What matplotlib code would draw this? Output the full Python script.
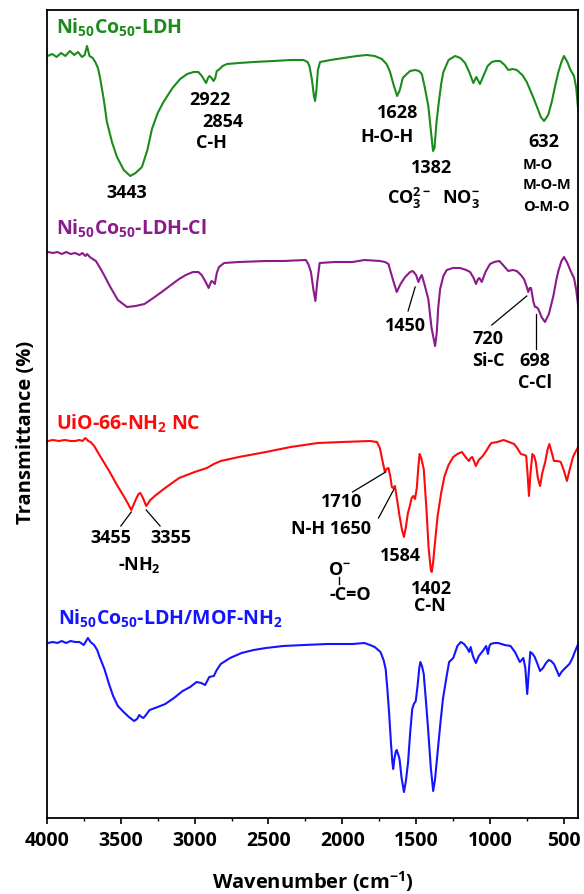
import matplotlib
matplotlib.use('Agg')
import matplotlib.pyplot as plt
from matplotlib.ticker import MultipleLocator

plt.rcParams['font.family'] = 'Open Sans'
plt.rcParams['font.weight'] = 'bold'
plt.rcParams['axes.labelweight'] = 'bold'
plt.rcParams['mathtext.fontset'] = 'custom'
plt.rcParams['mathtext.rm'] = 'Open Sans:bold'
plt.rcParams['mathtext.it'] = 'Open Sans:bold'
plt.rcParams['mathtext.bf'] = 'Open Sans:bold'

# FTIR spectra (wavenumber in cm-1, transmittance in a.u., already stacked)
wn_ldh = [3996, 3965, 3935, 3905, 3875, 3845, 3815, 3790, 3763, 3745, 3729, 3712, 3690, 3673, 3655,
          3639, 3615, 3594, 3560, 3526, 3480, 3436, 3400, 3357, 3320, 3289, 3250, 3211, 3150, 3098,
          3050, 3007, 2975, 2951, 2935, 2922, 2910, 2899, 2885, 2872, 2860, 2850, 2838, 2810, 2781,
          2700, 2600, 2466, 2350, 2263, 2235, 2222, 2205, 2192, 2184, 2175, 2165, 2150, 2080, 1992,
          1900, 1834, 1780, 1732, 1700, 1676, 1650, 1628, 1610, 1590, 1563, 1540, 1507, 1480, 1461,
          1440, 1417, 1400, 1385, 1375, 1362, 1349, 1330, 1315, 1280, 1236, 1200, 1168, 1140, 1112,
          1092, 1067, 1044, 1015, 987, 960, 931, 900, 875, 845, 818, 780, 750, 710, 683,
          655, 633, 605, 581, 555, 536, 515, 498, 475, 457, 430, 415, 401]
t_ldh = [762, 764, 761, 765, 762, 767, 763, 766, 761, 763, 772, 762, 760, 756, 750,
         739, 718, 696, 676, 661, 648, 642, 645, 651, 668, 689, 705, 716, 730, 739,
         744, 746, 746, 742, 738, 735, 740, 742, 740, 737, 740, 747, 748, 752, 754,
         755, 756, 757, 758, 758, 756, 752, 738, 722, 717, 728, 748, 756, 758, 760,
         762, 763, 762, 759, 754, 746, 732, 722, 728, 740, 744, 747, 748, 747, 744,
         730, 712, 688, 667, 670, 695, 712, 734, 746, 758, 762, 760, 755, 746, 735,
         741, 734, 742, 752, 756, 757, 757, 753, 748, 749, 748, 743, 736, 722, 712,
         701, 697, 703, 716, 734, 746, 756, 762, 756, 749, 742, 730, 707]

wn_cl = [3994, 3960, 3930, 3900, 3870, 3840, 3810, 3780, 3760, 3740, 3728, 3710, 3690, 3669, 3640,
         3610, 3575, 3520, 3458, 3400, 3340, 3280, 3223, 3160, 3105, 3060, 3011, 2975, 2952, 2925,
         2905, 2895, 2886, 2875, 2863, 2850, 2835, 2800, 2700, 2517, 2400, 2247, 2230, 2212, 2195,
         2182, 2170, 2153, 2050, 1930, 1850, 1744, 1710, 1687, 1660, 1631, 1605, 1574, 1540, 1522,
         1500, 1484, 1470, 1461, 1440, 1417, 1395, 1371, 1360, 1350, 1337, 1315, 1292, 1250, 1202,
         1160, 1134, 1110, 1094, 1080, 1071, 1055, 1030, 999, 970, 936, 905, 875, 845, 818,
         790, 769, 752, 740, 730, 721, 705, 694, 685, 672, 650, 627, 600, 570, 550,
         536, 515, 498, 475, 453, 430, 415, 401]
t_cl = [566, 565, 566, 564, 566, 564, 565, 563, 565, 562, 564, 561, 559, 557, 550,
        542, 532, 518, 511, 512, 514, 520, 526, 533, 539, 543, 546, 546, 543, 536,
        530, 534, 537, 536, 534, 545, 551, 555, 556, 557, 557, 558, 554, 546, 528,
        517, 535, 555, 556, 556, 558, 557, 556, 554, 540, 526, 534, 541, 546, 547,
        543, 536, 541, 543, 532, 519, 490, 472, 485, 510, 529, 542, 548, 550, 550,
        548, 546, 540, 534, 539, 540, 536, 546, 554, 556, 557, 552, 547, 548, 547,
        543, 539, 532, 526, 530, 530, 516, 511, 511, 509, 501, 496, 504, 522, 538,
        547, 557, 561, 555, 547, 540, 528, 511]

wn_uio = [3994, 3960, 3920, 3880, 3840, 3810, 3780, 3760, 3740, 3720, 3705, 3680, 3657, 3620, 3575,
          3530, 3481, 3450, 3429, 3400, 3380, 3368, 3350, 3328, 3300, 3270, 3200, 3105, 3000, 2917,
          2870, 2823, 2700, 2517, 2350, 2165, 2000, 1812, 1765, 1745, 1730, 1720, 1711, 1700, 1687,
          1675, 1664, 1655, 1643, 1625, 1612, 1595, 1582, 1570, 1555, 1542, 1530, 1518, 1507, 1495,
          1485, 1476, 1465, 1448, 1430, 1415, 1400, 1394, 1385, 1370, 1354, 1330, 1307, 1280, 1248,
          1220, 1189, 1165, 1142, 1130, 1119, 1105, 1095, 1075, 1048, 1025, 1000, 989, 950, 907,
          870, 836, 815, 790, 765, 754, 745, 735, 725, 712, 700, 689, 675, 660, 645,
          625, 610, 597, 580, 566, 540, 520, 500, 478, 460, 437, 420, 402]
t_uio = [377, 378, 377, 378, 377, 377, 378, 377, 380, 377, 376, 372, 366, 357, 346,
         334, 322, 314, 308, 318, 324, 325, 320, 312, 318, 322, 330, 340, 346, 350,
         354, 357, 361, 366, 371, 375, 376, 377, 376, 370, 359, 352, 346, 349, 350,
         342, 331, 330, 332, 315, 302, 288, 281, 290, 305, 312, 320, 322, 319, 330,
         350, 364, 360, 349, 310, 270, 248, 246, 255, 278, 302, 325, 342, 353, 361,
         364, 366, 361, 357, 360, 361, 356, 352, 358, 362, 367, 373, 375, 376, 378,
         376, 374, 370, 364, 363, 362, 345, 322, 345, 364, 362, 356, 340, 332, 345,
         356, 368, 374, 365, 357, 357, 356, 348, 337, 348, 361, 366, 371]

wn_mof = [3994, 3960, 3930, 3900, 3870, 3840, 3810, 3780, 3760, 3751, 3735, 3723, 3705, 3681, 3660,
          3646, 3611, 3580, 3552, 3520, 3481, 3445, 3410, 3390, 3375, 3360, 3347, 3330, 3305, 3250,
          3199, 3140, 3081, 3030, 2987, 2955, 2929, 2915, 2901, 2870, 2850, 2823, 2760, 2682, 2600,
          2517, 2400, 2259, 2100, 1930, 1850, 1812, 1780, 1741, 1720, 1706, 1695, 1683, 1670, 1660,
          1655, 1648, 1638, 1631, 1622, 1612, 1598, 1582, 1568, 1554, 1540, 1526, 1515, 1502, 1490,
          1478, 1471, 1460, 1448, 1432, 1417, 1400, 1384, 1372, 1354, 1335, 1318, 1295, 1276, 1248,
          1220, 1197, 1175, 1154, 1140, 1130, 1115, 1095, 1075, 1048, 1025, 1013, 1003, 994, 970,
          943, 900, 860, 830, 810, 797, 785, 773, 760, 747, 737, 726, 710, 696, 680,
          660, 640, 620, 601, 585, 566, 545, 531, 515, 496, 475, 461, 440, 425, 402]
t_mof = [175, 176, 175, 177, 175, 177, 176, 176, 174, 173, 177, 180, 176, 173, 168,
         162, 149, 134, 122, 112, 106, 101, 97, 99, 103, 101, 100, 103, 108, 111,
         114, 120, 127, 131, 136, 135, 133, 137, 141, 142, 148, 154, 160, 165, 168,
         170, 172, 173, 174, 174, 175, 173, 171, 166, 158, 149, 130, 106, 75, 55,
         49, 58, 66, 68, 64, 59, 40, 26, 38, 56, 85, 109, 114, 117, 132,
         150, 156, 152, 144, 115, 86, 50, 27, 38, 66, 95, 119, 140, 156, 160,
         172, 176, 174, 170, 166, 171, 162, 155, 162, 167, 172, 164, 172, 174, 175,
         175, 173, 172, 166, 160, 156, 158, 160, 150, 124, 145, 166, 164, 161, 155,
         147, 150, 155, 158, 157, 154, 147, 142, 146, 149, 152, 154, 160, 166, 174]

green = '#1b8c1b'
purple = '#8b1a8b'
red = '#ff0a0a'
blue = '#1414ff'

fig = plt.figure(figsize=(5.84, 8.95), dpi=100)
ax = fig.add_axes([47 / 584, 1 - 819 / 895, 531 / 584, 808 / 895])

ax.plot(wn_ldh, t_ldh, color=green, lw=1.5)
ax.plot(wn_cl, t_cl, color=purple, lw=1.5)
ax.plot(wn_uio, t_uio, color=red, lw=1.5)
ax.plot(wn_mof, t_mof, color=blue, lw=1.5)

ax.set_xlim(4000, 403)
ax.set_ylim(0, 808)
ax.xaxis.set_major_locator(MultipleLocator(500))
ax.xaxis.set_minor_locator(MultipleLocator(250))
ax.tick_params(axis='x', which='major', direction='out', length=4, width=1.2, labelsize=14, pad=5)
ax.tick_params(axis='x', which='minor', direction='out', length=2.5, width=1.0)
ax.tick_params(axis='y', which='both', left=False, labelleft=False)
for s in ax.spines.values():
    s.set_linewidth(1.3)

ax.set_xlabel('Wavenumber (cm$^{-1}$)', fontsize=14.5, labelpad=13)
ax.set_ylabel('Transmittance (%)', fontsize=14.5, va='center')
ax.yaxis.set_label_coords(-0.04, 0.479)

# sample names
ax.text(3937, 785, r'Ni$_{50}$Co$_{50}$-LDH', color=green, fontsize=14, ha='left', va='baseline')
ax.text(3937, 584, r'Ni$_{50}$Co$_{50}$-LDH-Cl', color=purple, fontsize=14, ha='left', va='baseline')
ax.text(3937, 389, r'UiO-66-NH$_2$ NC', color=red, fontsize=14, ha='left', va='baseline')
ax.text(3924, 194, r'Ni$_{50}$Co$_{50}$-LDH/MOF-NH$_2$', color=blue, fontsize=14, ha='left', va='baseline')

fs = 13
# LDH peaks
ax.text(3459, 626, '3443', fontsize=fs, ha='center', va='center')
ax.text(2894, 719, '2922', fontsize=fs, ha='center', va='center')
ax.text(2808, 697, '2854', fontsize=fs, ha='center', va='center')
ax.text(2884, 676, 'C-H', fontsize=fs, ha='center', va='center')
ax.text(1623, 706, '1628', fontsize=fs, ha='center', va='center')
ax.text(1694, 682, 'H-O-H', fontsize=fs, ha='center', va='center')
ax.text(1392, 651, '1382', fontsize=fs, ha='center', va='center')
ax.text(1380, 621, r'CO$_3^{2-}$  NO$_3^{-}$', fontsize=fs, ha='center', va='center')
ax.text(635, 677, '632', fontsize=fs, ha='center', va='center')
ax.text(775, 654, 'M-O', fontsize=10.5, ha='left', va='center')
ax.text(775, 634, 'M-O-M', fontsize=10.5, ha='left', va='center')
ax.text(775, 612, 'O-M-O', fontsize=10.5, ha='left', va='center')

# LDH-Cl peaks
ax.text(1574, 493, '1450', fontsize=fs, ha='center', va='center')
ax.plot([1506, 1554], [531, 507], color='k', lw=0.9)
ax.text(1012, 480, '720', fontsize=fs, ha='center', va='center')
ax.text(1012, 458, 'Si-C', fontsize=fs, ha='center', va='center')
ax.plot([750, 987], [522, 493], color='k', lw=0.9)
ax.text(694, 458, '698', fontsize=fs, ha='center', va='center')
ax.text(694, 436, 'C-Cl', fontsize=fs, ha='center', va='center')
ax.plot([689, 689], [504, 469], color='k', lw=0.9)

# UiO-66-NH2 peaks
ax.text(3565, 281, '3455', fontsize=fs, ha='center', va='center')
ax.text(3158, 281, '3355', fontsize=fs, ha='center', va='center')
ax.text(3375, 254, r'-NH$_2$', fontsize=fs, ha='center', va='center')
ax.plot([3429, 3500], [306, 292], color='k', lw=0.9)
ax.plot([3328, 3234], [308, 292], color='k', lw=0.9)
ax.text(2001, 317, '1710', fontsize=fs, ha='center', va='center')
ax.plot([1706, 1930], [346, 326], color='k', lw=0.9)
ax.text(2076, 290, 'N-H 1650', fontsize=fs, ha='center', va='center')
ax.plot([1649, 1754], [329, 300], color='k', lw=0.9)
ax.text(1609, 263, '1584', fontsize=fs, ha='center', va='center')
ax.text(2021, 249, r'O$^{-}$', fontsize=fs, ha='center', va='center')
ax.plot([2021, 2021], [241, 234], color='k', lw=1.0)
ax.text(1947, 224, '-C=O', fontsize=fs, ha='center', va='center')
ax.text(1398, 230, '1402', fontsize=fs, ha='center', va='center')
ax.text(1405, 213, 'C-N', fontsize=fs, ha='center', va='center')

fig.savefig('out.png', dpi=100)
